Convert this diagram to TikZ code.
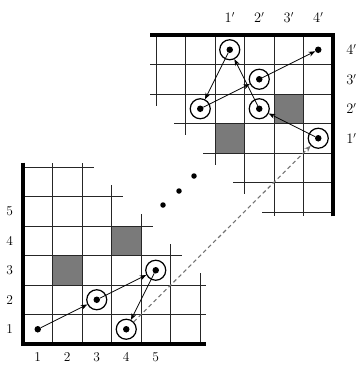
\documentclass[tikz,border=0pt]{standalone}
\usetikzlibrary{arrows.meta}
\tikzset{
  gline/.style={line width=0.9pt, black!85},
  axisline/.style={line width=3.8pt, black},
  shadecell/.style={fill=black!52},
  ptdot/.style={circle, fill=black, inner sep=0pt, minimum size=6.5pt},
  smalldot/.style={circle, fill=black, inner sep=0pt, minimum size=5.5pt},
  ring/.style={circle, draw=black, line width=1.2pt, inner sep=0pt, minimum size=20pt},
  arr/.style={line width=0.7pt, black, -{Stealth[length=6.5pt,width=5pt]}},
  dashline/.style={line width=1.1pt, black!55, dash pattern=on 4pt off 3pt, -{Stealth[length=6.5pt,width=5pt]}},
  lab/.style={font=\fontsize{13.5}{16}\selectfont, inner sep=0pt}
}
\newcommand\stairgrid{%
  \fill[shadecell] (1,2) rectangle (2,3);
  \fill[shadecell] (3,3) rectangle (4,4);
  \foreach \i/\t in {1/6.15,2/6.15,3/5.4,4/4.4,5/3.4,6/2.4} {\draw[gline] (\i,0) -- (\i,\t);}
  \foreach \j/\t in {1/6.2,2/6.2,3/5.4,4/4.4,5/3.4,6/2.4} {\draw[gline] (0,\j) -- (\t,\j);}
  \draw[axisline] (0,6.15) -- (0,0) -- (6.2,0);
}
\begin{document}
\begin{tikzpicture}[x=1pt,y=-1pt]
\useasboundingbox (0,0) rectangle (360,365);
% bottom-left grid
\begin{scope}[shift={(23,344)}, x=29.5pt, y=29.5pt]
  \stairgrid
  \foreach \i in {1,...,5} {\node[lab] (bc\i) at (\i-0.5,-0.45) {\i};}
  \foreach \j in {1,...,5} {\node[lab] (br\j) at (-0.45,\j-0.5) {\j};}
  \node[ptdot] (p1) at (0.5,0.5) {};
  \node[ring] (r2) at (2.5,1.5) {};
  \node[ptdot] (p2) at (2.5,1.5) {};
  \node[ring] (r3) at (4.5,2.5) {};
  \node[ptdot] (p3) at (4.5,2.5) {};
  \node[ring] (r4) at (3.5,0.5) {};
  \node[ptdot] (p4) at (3.5,0.5) {};
\end{scope}
% top-right grid
\begin{scope}[shift={(333,35)}, x=-29.5pt, y=-29.5pt]
  \stairgrid
  \foreach \k in {1,...,4} {\node[lab] (tc\k) at ({4.5-\k},-0.6) {$\k'$};}
  \foreach \k in {1,...,4} {\node[lab] (tr\k) at (-0.62,{4.5-\k}) {$\k'$};}
  \node[ring] (q1) at (0.5,3.5) {};
  \node[ptdot] (d1) at (0.5,3.5) {};
  \node[ring] (q2) at (2.5,2.5) {};
  \node[ptdot] (d2) at (2.5,2.5) {};
  \node[ring] (q3) at (3.5,0.5) {};
  \node[ptdot] (d3) at (3.5,0.5) {};
  \node[ring] (q4) at (4.5,2.5) {};
  \node[ptdot] (d4) at (4.5,2.5) {};
  \node[ring] (q5) at (2.5,1.5) {};
  \node[ptdot] (d5) at (2.5,1.5) {};
  \node[ptdot] (d6) at (0.5,0.5) {};
\end{scope}
% middle dots
\node[smalldot] (m1) at (163,205) {};
\node[smalldot] (m2) at (179,191) {};
\node[smalldot] (m3) at (194,176) {};
% arrows
\draw[arr] (p1) -- (r2);
\draw[arr] (p2) -- (r3);
\draw[arr] (p3) -- (r4);
\draw[dashline] (r4) -- (q1);
\draw[arr] (d1) -- (q2);
\draw[arr] (d2) -- (q3);
\draw[arr] (d3) -- (q4);
\draw[arr] (d4) -- (q5);
\draw[arr] (d5) -- (d6);
\end{tikzpicture}
\end{document}
